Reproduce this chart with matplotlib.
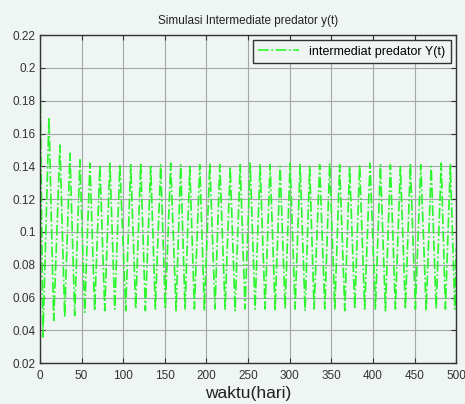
import matplotlib
matplotlib.use("Agg")
import matplotlib.pyplot as plt
import numpy as np

plt.rcParams['font.family'] = ['Liberation Sans', 'DejaVu Sans']

# turning points (time in days, y value)
t_start, y_start = 0.0, 0.200
trough_t = [3.6, 16.5, 29.7, 41.7, 53.7, 65.7,
            77.8, 89.8, 103, 115, 126.6, 138.6,
            150.6, 163.5, 174.3, 185.5, 197.5, 210.3,
            222.4, 234.4, 246.4, 258.4, 270.4, 282.5,
            294.5, 306.5, 318.5, 329.3, 342.2, 354.2,
            366.2, 378.2, 390.1, 403, 415, 427,
            439, 451, 464, 476, 487.1, 498.4]
trough_y = [0.036, 0.046, 0.048, 0.049, 0.051, 0.052,
            0.052, 0.053, 0.052, 0.053, 0.052, 0.053,
            0.053, 0.052, 0.053, 0.053, 0.052, 0.053,
            0.053, 0.052, 0.053, 0.053, 0.053, 0.052,
            0.053, 0.053, 0.052, 0.053, 0.053, 0.053,
            0.052, 0.053, 0.053, 0.053, 0.052, 0.053,
            0.053, 0.053, 0.052, 0.053, 0.053, 0.053]
peak_t = [10.8, 24, 36, 48, 60,
          72, 84, 96, 109, 121,
          133, 145, 157, 169, 180,
          192, 204, 216, 228.5, 240.5,
          252.5, 264.5, 276.5, 288.5, 300.5,
          312.5, 324, 336, 348, 360,
          372, 384, 396.5, 409, 421,
          433, 445, 457.5, 470, 482,
          493]
peak_y = [0.170, 0.153, 0.148, 0.144, 0.142,
          0.141, 0.142, 0.141, 0.141, 0.142,
          0.140, 0.141, 0.142, 0.141, 0.140,
          0.141, 0.142, 0.141, 0.140, 0.141,
          0.142, 0.141, 0.141, 0.140, 0.142,
          0.141, 0.140, 0.141, 0.142, 0.141,
          0.140, 0.141, 0.142, 0.141, 0.141,
          0.140, 0.142, 0.141, 0.140, 0.142,
          0.141]
t_end, y_end = 500.0, 0.090

xticks = [0, 50, 100, 150, 200, 250, 300, 350, 400, 450, 500]
yticks = [0.02, 0.04, 0.06, 0.08, 0.1, 0.12, 0.14, 0.16, 0.18, 0.2, 0.22]
ytick_labels = ['0.02', '0.04', '0.06', '0.08', '0.1', '0.12', '0.14', '0.16', '0.18', '0.2', '0.22']

# interleave troughs and peaks
t = [t_start]
y = [y_start]
for i in range(len(trough_t)):
    t.append(trough_t[i]); y.append(trough_y[i])
    if i < len(peak_t):
        t.append(peak_t[i]); y.append(peak_y[i])
t.append(t_end); y.append(y_end)

bg = '#eef5f2'
fig = plt.figure(figsize=(4.65, 4.04), dpi=100, facecolor=bg)
ax = fig.add_axes([0.086, 0.101, 0.895, 0.812], facecolor=bg)

ax.plot(t, y, '-.', color='#2bf52b', lw=1.2, label='intermediat predator Y(t)')

ax.set_xlim(0, 500)
ax.set_ylim(0.02, 0.22)
ax.set_xticks(xticks)
ax.set_yticks(yticks)
ax.set_yticklabels(ytick_labels)
ax.grid(True, color='#a3a8a6', lw=0.8)
ax.tick_params(direction='in', length=3.5, top=True, right=True, labelsize=8.5,
               colors='#333333')
ax.tick_params(axis='x', pad=5)
ax.tick_params(axis='y', pad=3)
for s in ax.spines.values():
    s.set_color('#333333')
    s.set_linewidth(1.0)

ax.set_title('Simulasi Intermediate predator y(t)', fontsize=8.5, color='#222222', pad=8)
ax.set_xlabel('waktu(hari)', fontsize=12.5, color='#222222', labelpad=3)

leg = ax.legend(loc='upper right', fontsize=9, fancybox=False, framealpha=1,
                facecolor=bg, edgecolor='#333333', borderaxespad=0.4,
                handlelength=3.3, borderpad=0.45)
leg.get_frame().set_linewidth(1.0)

fig.savefig('out.png', dpi=100, facecolor=bg)
